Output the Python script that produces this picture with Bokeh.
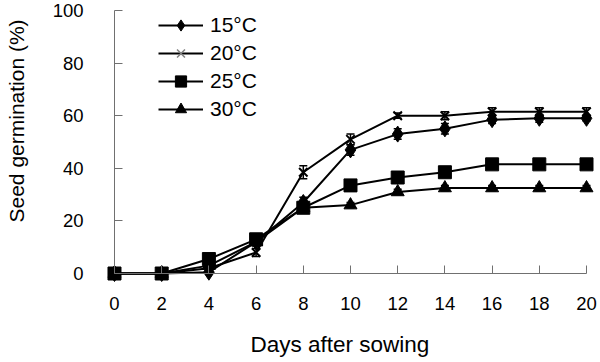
from bokeh.plotting import figure
from bokeh.models import ColumnDataSource, Whisker, TeeHead, Range1d, FixedTicker, Legend, Title
from bokeh.embed import file_html
from bokeh.resources import INLINE

days = [0, 2, 4, 6, 8, 10, 12, 14, 16, 18, 20]
g15 = [0, 0, 0.5, 12, 27, 47, 53, 55, 58.5, 59, 59]
g20 = [0, 0, 2, 8, 38.5, 51, 60, 60, 61.5, 61.5, 61.5]
g25 = [0, 0, 5.5, 13, 25, 33.5, 36.5, 38.5, 41.5, 41.5, 41.5]
g30 = [0, 0, 3, 12, 25, 26, 31, 32.5, 32.5, 32.5, 32.5]
e15 = [0, 0, 0.5, 1.5, 2, 2, 2, 2, 1.5, 1.5, 1]
e20 = [0, 0, 1, 1.5, 2.5, 2, 1, 1.5, 1.5, 1.5, 1.5]
e25 = [0, 0, 0.5, 1, 1, 1, 1, 1, 1, 1, 1]
e30 = [0, 0, 0.5, 1, 1, 1, 1, 1, 1, 1, 1]
labels = ["15°C", "20°C", "25°C", "30°C"]
x_ticks = [0, 2, 4, 6, 8, 10, 12, 14, 16, 18, 20]
y_ticks = [0, 20, 40, 60, 80, 100]
x_title = "Days after sowing"
y_title = "Seed germination (%)"

FONT = "Liberation Sans"

# frame covers tick-label area so that fixed-location axes keep their labels
p = figure(width=600, height=362, min_border_left=30, min_border_right=0,
           min_border_top=0, min_border_bottom=37,
           x_range=Range1d(-3.559, 20.593), y_range=Range1d(-19.77, 103.80),
           output_backend="svg", toolbar_location=None)
p.outline_line_color = None
p.grid.visible = False
p.background_fill_color = "white"

for ax in (p.xaxis[0], p.yaxis[0]):
    ax.axis_line_color = "#707070"
    ax.axis_line_width = 1
    ax.major_tick_line_color = "#707070"
    ax.major_tick_in = 8
    ax.major_tick_out = 0
    ax.minor_tick_line_color = None
    ax.major_label_text_font = FONT
    ax.major_label_text_font_size = "18.5px"
    ax.major_label_text_color = "black"
    ax.fixed_location = 0

p.xaxis.bounds = (0, 20)
p.yaxis.bounds = (0, 100)
p.xaxis.ticker = FixedTicker(ticks=x_ticks)
p.yaxis.ticker = FixedTicker(ticks=y_ticks)
p.xaxis.major_label_standoff = 23
p.yaxis.major_label_standoff = 31

xt = Title(text=x_title, align="left", offset=220, standoff=9,
           text_font=FONT, text_font_size="22.5px", text_font_style="normal", text_color="black")
yt = Title(text=y_title, align="left", offset=103, standoff=5,
           text_font=FONT, text_font_size="21px", text_font_style="normal", text_color="black")
p.add_layout(xt, "below")
p.add_layout(yt, "left")

series = [(g15, e15, "diamond", 16, "black"),
          (g20, e20, "x", 12, "#808080"),
          (g25, e25, "square", 13, "black"),
          (g30, e30, "triangle", 13, "black")]

items = []
for (vals, errs, marker, size, mcol), lab in zip(series, labels):
    src = ColumnDataSource(dict(x=days, y=vals,
                                lo=[v - e for v, e in zip(vals, errs)],
                                hi=[v + e for v, e in zip(vals, errs)]))
    w = Whisker(source=src, base="x", lower="lo", upper="hi", line_color="black", line_width=1.5,
                upper_head=TeeHead(size=8, line_color="black", line_width=1.5),
                lower_head=TeeHead(size=8, line_color="black", line_width=1.5))
    p.add_layout(w)
    r1 = p.line("x", "y", source=src, line_color="black", line_width=2)
    if marker == "x":
        r2 = p.scatter("x", "y", source=src, marker="x", size=size, line_color="black", line_width=2)
        r3 = p.scatter(x=[-100], y=[-100], marker="x", size=size, line_color=mcol, line_width=1.5)
        items.append((lab, [r1, r3]))
    else:
        r2 = p.scatter("x", "y", source=src, marker=marker, size=size, fill_color="black", line_color="black")
        items.append((lab, [r1, r2]))

legend = Legend(items=items, location=(128, 202), orientation="vertical")
legend.label_text_font = FONT
legend.label_text_font_size = "21px"
legend.label_text_color = "black"
legend.glyph_width = 45
legend.glyph_height = 28
legend.label_height = 28
legend.spacing = 0
legend.padding = 0
legend.margin = 0
legend.label_standoff = 7
legend.border_line_color = None
legend.background_fill_alpha = 0
p.add_layout(legend)

open("out.html", "w").write(file_html(p, INLINE))
